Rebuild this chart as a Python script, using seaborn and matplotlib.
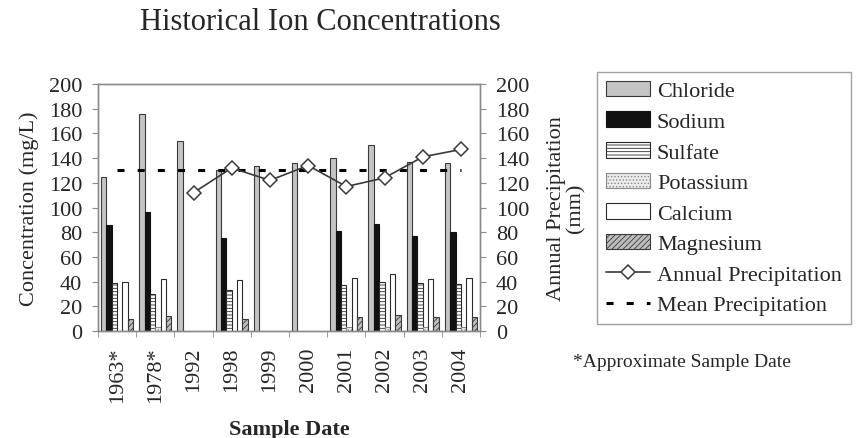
import numpy as np
import pandas as pd
import matplotlib
matplotlib.use('Agg')
import matplotlib.pyplot as plt
from matplotlib.patches import Patch
from matplotlib.lines import Line2D
import seaborn as sns

# ------------------------------------------ DATA ------------------------------------------------#
years = ['1963*', '1978*', '1992', '1998', '1999', '2000', '2001', '2002', '2003', '2004']
ions = ['Chloride', 'Sodium', 'Sulfate', 'Potassium', 'Calcium', 'Magnesium']
nan = np.nan
chloride = [125, 176, 154, 130, 134, 136, 140, 151, 137, 136]
sodium = [86, 96, nan, 75, nan, nan, 81, 87, 77, 80]
sulfate = [39, 30, nan, 33, nan, nan, 37, 40, 39, 38]
potassium = [nan, 3, nan, nan, nan, nan, 3, 3, 3, 3]
calcium = [40, 42, nan, 41, nan, nan, 43, 46, 42, 43]
magnesium = [10, 12.5, nan, 10, nan, nan, 11.5, 13, 11, 11.5]
precip = [nan, nan, 112, 132, 122, 134, 117, 124, 141, 147]
mean_precip = 130

# ------------------------------------------ STYLE ------------------------------------------------#
sns.set_style('ticks')
plt.rcParams['font.family'] = ['Liberation Serif', 'DejaVu Serif']
plt.rcParams['hatch.linewidth'] = 0.6

fills = {'Chloride': '#c4c4c4', 'Sodium': '#111111', 'Sulfate': '#ffffff',
         'Potassium': '#ececec', 'Calcium': '#ffffff', 'Magnesium': '#bdbdbd'}
edges = {'Chloride': '#3a3a3a', 'Sodium': '#111111', 'Sulfate': '#2a2a2a',
         'Potassium': '#8a8a8a', 'Calcium': '#2a2a2a', 'Magnesium': '#3a3a3a'}
hatches = {'Chloride': '', 'Sodium': '', 'Sulfate': '-----',
           'Potassium': '.....', 'Calcium': '', 'Magnesium': '//////'}
spine_col = '#8a8a8a'
fs = 16

# ------------------------------------------ DATA FRAMES ------------------------------------------#
conc = pd.DataFrame({'Year': years, 'Chloride': chloride, 'Sodium': sodium, 'Sulfate': sulfate,
                     'Potassium': potassium, 'Calcium': calcium, 'Magnesium': magnesium})
conc = conc.melt(id_vars='Year', var_name='Ion', value_name='Conc')
prec = pd.DataFrame({'Year': years, 'Precip': precip, 'Mean': [mean_precip] * len(years)})

# ------------------------------------------ PLOT ------------------------------------------------#
fig = plt.figure(figsize=(8.56, 4.39), dpi=100)
ax = fig.add_axes([0.1145, 0.2437, 0.4463, 0.5627])

sns.barplot(data=conc, x='Year', y='Conc', hue='Ion', order=years, hue_order=ions,
            palette=fills, width=0.84, errorbar=None, saturation=1, legend=False, ax=ax)
for cont, ion in zip(ax.containers, ions):
    for bar in cont:
        bar.set_edgecolor(edges[ion])
        bar.set_hatch(hatches[ion])
        bar.set_linewidth(0.8)

ax2 = ax.twinx()
sns.pointplot(data=prec, x='Year', y='Mean', order=years, ax=ax2, color='black',
              marker='', linestyle=(0, (2.3, 4.3)), linewidth=2.2, errorbar=None)
sns.pointplot(data=prec, x='Year', y='Precip', order=years, ax=ax2, color='#3a3a3a',
              marker='D', markersize=7, markerfacecolor='white', markeredgecolor='#3a3a3a',
              markeredgewidth=1.1, linewidth=1.2, errorbar=None)

for a in (ax, ax2):
    a.set_ylim(0, 200)
    a.set_yticks(range(0, 201, 20))
    a.set_xlim(-0.5, len(years) - 0.5)
    for s in a.spines.values():
        s.set_visible(True)
        s.set_color(spine_col)
        s.set_linewidth(1)
    a.tick_params(axis='y', length=4.3, color=spine_col, labelsize=fs, pad=7)

ax.set_xticks(np.arange(-0.5, len(years), 1), minor=True)
ax.tick_params(axis='x', which='major', length=0, labelsize=fs, rotation=90, pad=11)
ax.tick_params(axis='x', which='minor', length=4.3, color=spine_col)

ax.set_ylabel('Concentration (mg/L)', fontsize=fs, labelpad=7)
ax2.set_ylabel('Annual Precipitation\n(mm)', fontsize=fs, labelpad=13, linespacing=1.0)
ax.set_xlabel('Sample Date', fontsize=fs, fontweight='bold', labelpad=12)

fig.text(320 / 856, 1 - 22 / 439, 'Historical Ion Concentrations', fontsize=22,
         ha='center', va='center')
fig.text(573 / 856, 1 - 363 / 439, '*Approximate Sample Date', fontsize=14,
         ha='left', va='center')

handles = [Patch(facecolor=fills[i], edgecolor=edges[i], hatch=hatches[i], linewidth=0.8)
           for i in ions]
handles += [Line2D([0], [0], color='#3a3a3a', marker='D', markersize=7, markerfacecolor='white',
                   markeredgewidth=1.1, linewidth=1.2),
            Line2D([0], [0], color='black', linestyle=(0, (2.3, 4.3)), linewidth=2.2)]
labels = ions + ['Annual Precipitation', 'Mean Precipitation']
leg = fig.legend(handles, labels, loc='upper left', bbox_to_anchor=(597 / 856, 1 - 73 / 439),
                 fontsize=fs, frameon=True, fancybox=False, edgecolor=spine_col,
                 handlelength=2.0, handleheight=0.7, handletextpad=0.3,
                 labelspacing=0.45, borderpad=0.4, borderaxespad=0)
leg.get_frame().set_linewidth(1)

plt.savefig('out.png', dpi=100)
